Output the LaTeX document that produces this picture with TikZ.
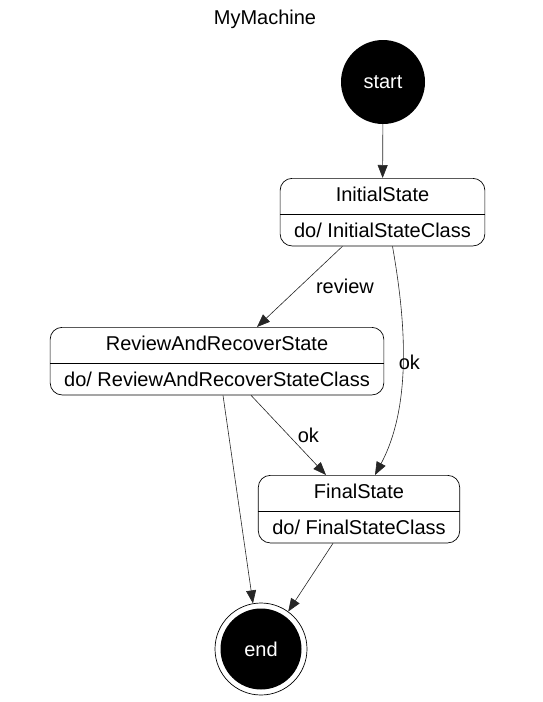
\documentclass[tikz,border=0pt]{standalone}
\usepackage{fontspec}
\setmainfont{Liberation Sans}
\usetikzlibrary{calc}
\usetikzlibrary{arrows.meta}
\usetikzlibrary{shapes.multipart}

\tikzset{
  state/.style={rectangle split, rectangle split parts=2, draw, rounded corners=12pt,
    line width=0.7pt, inner xsep=14pt, inner ysep=8pt, text height=15pt, text depth=4.5pt,
    anchor=north},
  pseudo/.style={circle, fill=black, inner sep=0pt, text=white},
  trans/.style={-{Triangle[length=13pt,width=10pt]}, line width=0.6pt, draw=black!85},
  lbl/.style={inner sep=0pt}
}

\begin{document}
\begin{tikzpicture}[x=1pt,y=-1pt,font=\fontsize{20}{24}\selectfont]
\useasboundingbox (0,0) rectangle (542,702);

% Anchor points
\coordinate (S) at (383,82);
\coordinate (I) at (382.5,178);
\coordinate (R) at (217,327);
\coordinate (F) at (359,475);
\coordinate (E) at (261,649);

% Title
\node (title) at (265,19) {MyMachine};

% Pseudo states
\node[pseudo, minimum size=84pt] (start) at (S) {start};
\node[circle, draw, line width=0.7pt, minimum size=92pt] (endst) at (E) {};
\node[pseudo, minimum size=81pt] (endin) at (E) {end};

% States
\node[state] (init) at (I) {InitialState \nodepart{two} do/ InitialStateClass};
\node[state] (review) at (R) {ReviewAndRecoverState \nodepart{two} do/ ReviewAndRecoverStateClass};
\node[state] (final) at (F) {FinalState \nodepart{two} do/ FinalStateClass};

% Transitions
\draw[trans] (start) -- (init);
\draw[trans] ($(init.south)+(-40,0)$) -- node[lbl, right=16pt] (lrev) {review}
  ($(review.north)+(40,0)$);
\draw[trans] ($(init.south)+(10,0)$) .. controls +(10.5,60) and +(40,-75) ..
  node[lbl, pos=0.53, anchor=west, xshift=-4pt] (lokI) {ok} ($(final.north)+(16,0)$);
\draw[trans] ($(review.south)+(34,0)$) -- node[lbl, right=9pt] (lokR) {ok}
  ($(final.north)+(-33,0)$);
\draw[trans] ($(review.south)+(6,0)$) -- (endst.100);
\draw[trans] ($(final.south)+(-26,0)$) -- (endst.54);

\end{tikzpicture}
\end{document}
